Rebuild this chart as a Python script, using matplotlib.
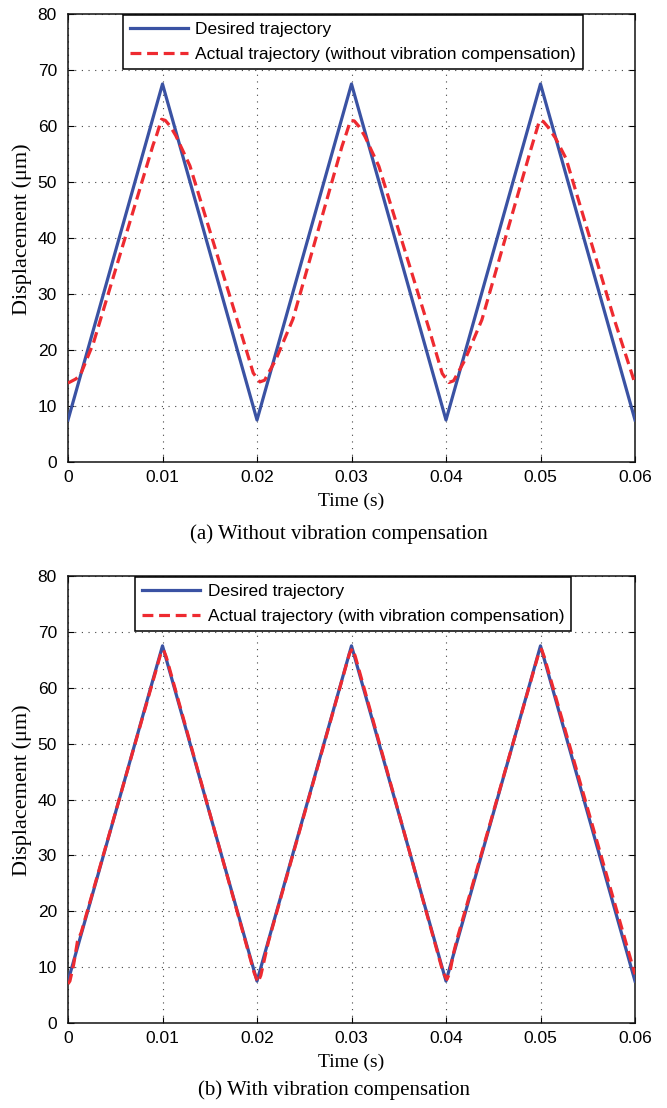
import matplotlib
matplotlib.use("Agg")
import matplotlib.pyplot as plt
import numpy as np

# ---------------- data ----------------
t_desired = [0.0, 0.01, 0.02, 0.03, 0.04, 0.05, 0.06]
y_desired = [7.5, 67.5, 7.5, 67.5, 7.5, 67.5, 7.5]

t_actual_a = [0.0, 0.0008, 0.0013, 0.0027, 0.0090, 0.0094, 0.0099, 0.0103, 0.0108, 0.0114, 0.0129,
              0.0182, 0.0196, 0.0203, 0.0208, 0.0220, 0.0238,
              0.0290, 0.0294, 0.0299, 0.0303, 0.0308, 0.0314, 0.0329,
              0.0382, 0.0396, 0.0403, 0.0408, 0.0420, 0.0438,
              0.0488, 0.0494, 0.0499, 0.0503, 0.0508, 0.0516, 0.0527,
              0.0578, 0.0600]
y_actual_a = [14.1, 14.8, 15.5, 21.3, 56.6, 58.5, 61.2, 61.0, 60.0, 58.3, 52.9,
              23.7, 15.9, 14.3, 14.6, 18.3, 25.5,
              56.4, 58.4, 61.0, 60.9, 59.9, 58.2, 52.8,
              23.8, 15.8, 14.2, 14.5, 18.2, 25.4,
              54.8, 58.2, 61.0, 60.8, 59.8, 57.8, 54.2,
              25.5, 14.0]

t_actual_b = [0.0, 0.0002, 0.0006, 0.0010, 0.0014, 0.0098, 0.0101, 0.0104,
              0.0197, 0.0201, 0.0204, 0.0208, 0.0212, 0.0298, 0.0301, 0.0304,
              0.0397, 0.0401, 0.0404, 0.0408, 0.0412, 0.0498, 0.0501, 0.0504, 0.0600]
y_actual_b = [7.0, 7.5, 10.5, 14.6, 16.2, 66.0, 66.8, 65.5,
              9.0, 7.3, 8.5, 11.5, 14.5, 66.2, 67.0, 65.6,
              9.0, 7.8, 9.0, 12.5, 15.2, 66.1, 66.9, 65.5, 8.7]

x_ticks = [0, 0.01, 0.02, 0.03, 0.04, 0.05, 0.06]
x_ticklabels = ["0", "0.01", "0.02", "0.03", "0.04", "0.05", "0.06"]
y_ticks = [0, 10, 20, 30, 40, 50, 60, 70, 80]

panels = [
    (t_actual_a, y_actual_a, "Actual trajectory (without vibration compensation)",
     "(a) Without vibration compensation"),
    (t_actual_b, y_actual_b, "Actual trajectory (with vibration compensation)",
     "(b) With vibration compensation"),
]

# ---------------- styling ----------------
BLUE = "#3a52a3"
RED = "#ee2a30"
SANS = ["Liberation Sans", "DejaVu Sans"]
SERIF = ["Liberation Serif", "DejaVu Serif"]

fig = plt.figure(figsize=(6.67, 11.08), dpi=100)
W, H = 667, 1108
ax_left = 68 / W
ax_w = 567 / W
axes_rects = [
    [ax_left, 1 - 462 / H, ax_w, 448 / H],
    [ax_left, 1 - 1023 / H, ax_w, 447 / H],
]
caption_y = [1 - 534 / H, 1 - 1090 / H]
caption_x = [339 / W, 334 / W]

for (ta, ya, lab, cap), rect, cy, cx in zip(panels, axes_rects, caption_y, caption_x):
    ax = fig.add_axes(rect)
    ax.plot(t_desired, y_desired, color=BLUE, lw=2.3, label="Desired trajectory", zorder=3)
    ax.plot(ta, ya, color=RED, lw=2.3, ls=(0, (3.4, 1.8)), label=lab, zorder=4)
    ax.set_xlim(0, 0.06)
    ax.set_ylim(0, 80)
    ax.set_xticks(x_ticks)
    ax.set_xticklabels(x_ticklabels)
    ax.set_yticks(y_ticks)
    for tl in ax.get_xticklabels() + ax.get_yticklabels():
        tl.set_fontfamily(SANS)
        tl.set_fontsize(12.5)
    ax.tick_params(direction="in", top=True, right=True, length=4, width=0.8)
    ax.tick_params(axis="x", pad=6)
    ax.tick_params(axis="y", pad=8)
    ax.grid(True, ls=(0, (1, 5)), color="#444444", lw=0.8)
    for s in ax.spines.values():
        s.set_linewidth(1.1)
        s.set_color("#111111")
    ax.set_xlabel("Time (s)", fontfamily=SERIF, fontsize=14)
    ax.xaxis.set_label_coords(0.5, -0.068)
    ax.set_ylabel("Displacement (\u03bcm)", fontfamily=SERIF, fontsize=16)
    ax.yaxis.set_label_coords(-0.063, 0.52)
    leg = ax.legend(loc="upper center", bbox_to_anchor=(0.503, 0.997), frameon=True, fancybox=False,
                    edgecolor="black", framealpha=1, borderaxespad=0.0,
                    prop={"family": SANS, "size": 12.5}, handlelength=3.3, handletextpad=0.45,
                    borderpad=0.4, labelspacing=0.55)
    leg.get_frame().set_linewidth(1.1)
    fig.text(cx, cy, cap, ha="center", va="center", fontfamily=SERIF, fontsize=15)

fig.savefig("out.png", dpi=100)
